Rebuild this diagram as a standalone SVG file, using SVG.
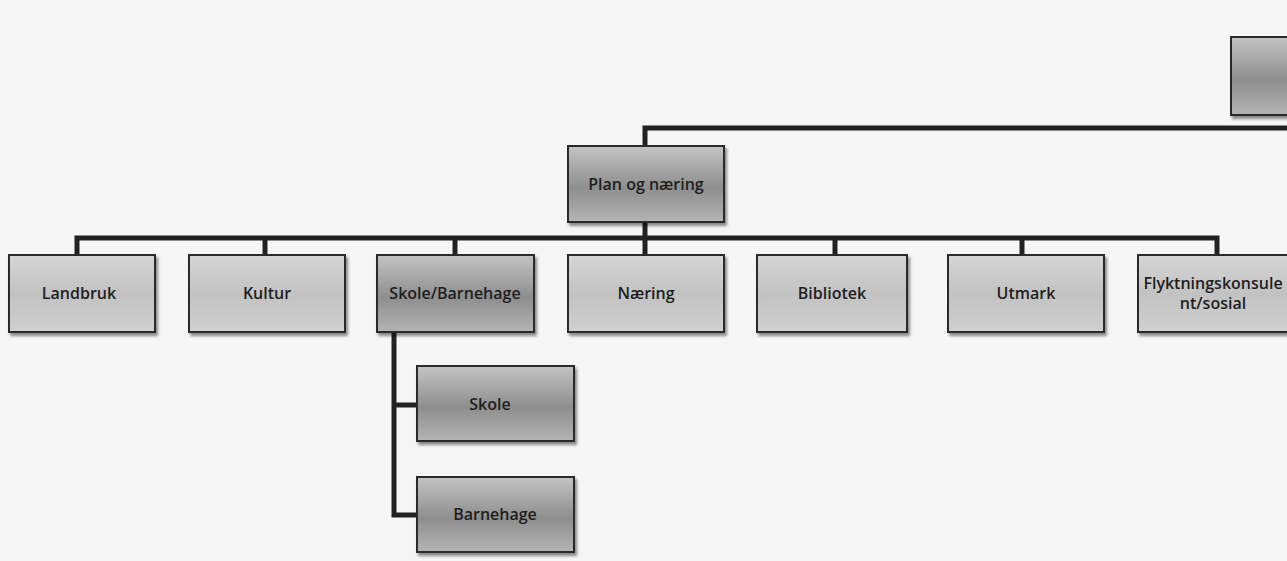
<svg xmlns="http://www.w3.org/2000/svg" width="1287" height="561" viewBox="0 0 1287 561">
<defs>
<linearGradient id="gl" x1="0" y1="0" x2="0" y2="1">
<stop offset="0" stop-color="#d6d6d6"/><stop offset="0.5" stop-color="#c2c2c2"/><stop offset="1" stop-color="#d0d0d0"/>
</linearGradient>
<linearGradient id="gd" x1="0" y1="0" x2="0" y2="1">
<stop offset="0" stop-color="#c4c4c4"/><stop offset="0.55" stop-color="#8e8e8e"/><stop offset="1" stop-color="#b4b4b4"/>
</linearGradient>
<filter id="sh" x="-10%" y="-10%" width="130%" height="130%">
<feGaussianBlur in="SourceAlpha" stdDeviation="1.5"/><feOffset dx="2" dy="3"/>
<feComponentTransfer><feFuncA type="linear" slope="0.45"/></feComponentTransfer>
<feMerge><feMergeNode/><feMergeNode in="SourceGraphic"/></feMerge>
</filter>
</defs>
<style>
.bl{fill:url(#gl);stroke:#2a2a2a;stroke-width:2;filter:url(#sh)}
.bd{fill:url(#gd);stroke:#2a2a2a;stroke-width:2;filter:url(#sh)}
.t{font-family:"Open Sans","Liberation Sans",sans-serif;font-size:16px;font-weight:600;fill:#1e1e1e;text-anchor:middle}
.c{stroke:#222;stroke-width:5;fill:none}
</style>
<rect width="1287" height="561" fill="#f6f6f6"/>
<g id="connectors">
<path class="c" d="M645 146 V128 H1287"/>
<path class="c" d="M645 222 V238"/>
<path class="c" d="M77 255 V238 H1217 V255"/>
<path class="c" d="M265 238 V255 M455 238 V255 M645 238 V255 M835 238 V255 M1022 238 V255"/>
<path class="c" d="M394 332 V515 H417 M394 405 H417"/>
</g>
<g id="top"><rect class="bd" x="1231" y="37" width="70" height="78"/></g>
<g id="plan"><rect class="bd" x="568" y="146" width="156" height="76"/><text class="t" x="646" y="190">Plan og næring</text></g>
<g id="landbruk"><rect class="bl" x="9" y="255" width="146" height="77"/><text class="t" x="79" y="299">Landbruk</text></g>
<g id="kultur"><rect class="bl" x="189" y="255" width="156" height="77"/><text class="t" x="267" y="299">Kultur</text></g>
<g id="skolebarnehage"><rect class="bd" x="377" y="255" width="157" height="77"/><text class="t" x="455" y="299">Skole/Barnehage</text></g>
<g id="naering"><rect class="bl" x="568" y="255" width="156" height="77"/><text class="t" x="646" y="299">Næring</text></g>
<g id="bibliotek"><rect class="bl" x="757" y="255" width="150" height="77"/><text class="t" x="832" y="299">Bibliotek</text></g>
<g id="utmark"><rect class="bl" x="948" y="255" width="156" height="77"/><text class="t" x="1026" y="299">Utmark</text></g>
<g id="flyktning"><rect class="bl" x="1138" y="255" width="160" height="77"/><text class="t" x="1213" y="289">Flyktningskonsule</text><text class="t" x="1213" y="309">nt/sosial</text></g>
<g id="skole"><rect class="bd" x="417" y="366" width="157" height="75"/><text class="t" x="490" y="410">Skole</text></g>
<g id="barnehage"><rect class="bd" x="417" y="477" width="157" height="75"/><text class="t" x="495" y="520">Barnehage</text></g>
</svg>
